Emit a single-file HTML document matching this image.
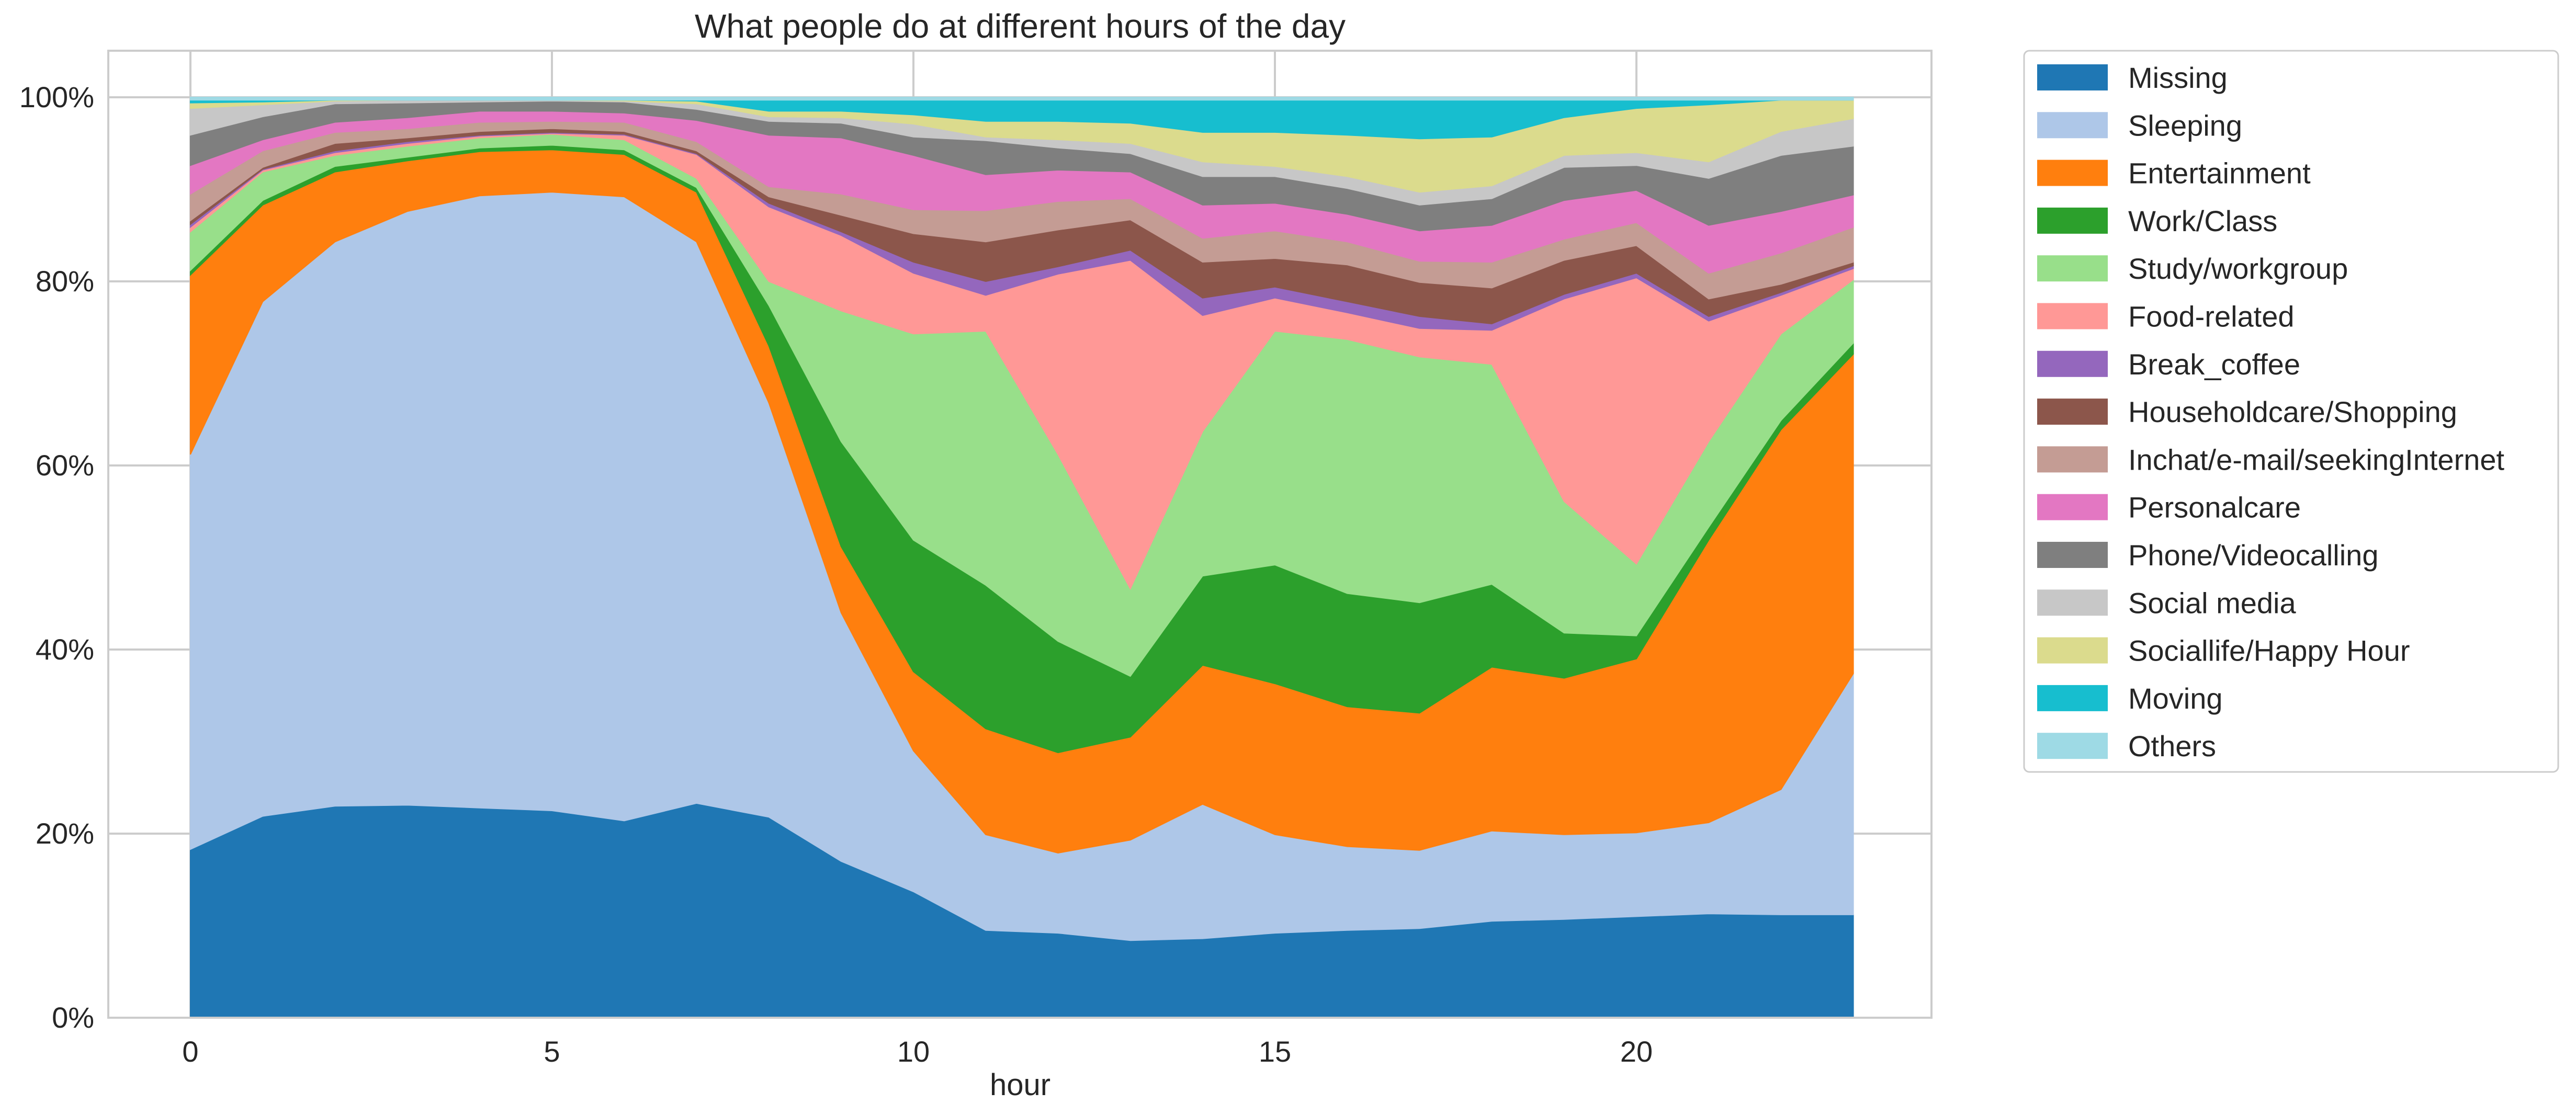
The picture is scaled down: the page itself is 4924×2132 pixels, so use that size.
<!DOCTYPE html>
<html><head><meta charset="utf-8"><style>
html,body{margin:0;padding:0;background:#fff;}
svg{display:block;font-family:"Liberation Sans",sans-serif;}
</style></head><body>
<svg id="chart" width="4924" height="2132" viewBox="0 0 4924 2132" xmlns="http://www.w3.org/2000/svg">
<rect x="0" y="0" width="4924" height="2132" fill="#fff"/>
<text x="1950" y="72" font-size="64" fill="#262626" text-anchor="middle">What people do at different hours of the day</text>
<g id="grid"></g>
<g id="areas"></g>
<rect x="207" y="97" width="3485" height="1849" fill="none" stroke="#cccccc" stroke-width="4"/>
<g id="ticks"></g>
<text x="1950" y="2094" font-size="58" fill="#262626" text-anchor="middle">hour</text>
<g id="legend"></g>
</svg>
<script>
const hours = [0,1,2,3,4,5,6,7,8,9,10,11,12,13,14,15,16,17,18,19,20,21,22,23];
const seriesNames = ["Missing","Sleeping","Entertainment","Work/Class","Study/workgroup","Food-related","Break_coffee","Householdcare/Shopping","Inchat/e-mail/seekingInternet","Personalcare","Phone/Videocalling","Social media","Sociallife/Happy Hour","Moving","Others"];
const missing = [18.3,21.9,23.0,23.1,22.8,22.5,21.4,23.3,21.8,17.0,13.7,9.5,9.2,8.4,8.6,9.2,9.5,9.7,10.5,10.7,11.0,11.3,11.2,11.2];
const sleeping = [42.9,55.9,61.3,64.5,66.5,67.2,67.8,61.0,45.0,27.0,15.3,10.4,8.7,10.9,14.6,10.7,9.1,8.5,9.8,9.2,9.1,9.9,13.6,26.2];
const entertainment = [19.5,10.5,7.6,5.5,4.8,4.6,4.6,5.4,6.2,7.2,8.6,11.5,10.9,11.2,15.1,16.4,15.2,14.9,17.8,17.0,18.9,30.7,39.1,34.7];
const workClass = [0.5,0.5,0.6,0.4,0.4,0.5,0.5,0.5,4.4,11.4,14.3,15.6,12.1,6.6,9.7,12.9,12.3,12.0,9.0,4.9,2.5,1.4,1.0,1.2];
const study = [4.2,3.1,1.2,1.2,1.1,1.2,1.1,1.0,2.6,14.2,22.4,27.6,20.3,9.5,15.7,25.4,27.6,26.7,23.9,14.3,7.8,9.3,9.4,6.9];
const food = [0.5,0.2,0.3,0.3,0.2,0.1,0.5,2.6,8.1,8.2,6.6,3.9,19.6,35.7,12.6,3.6,2.9,3.1,3.7,22.0,31.1,13.1,4.2,1.2];
const breakCoffee = [0.3,0.1,0.2,0.2,0.1,0.1,0.1,0.1,0.4,0.4,1.2,1.5,0.8,1.1,1.9,1.2,1.2,1.3,0.7,0.5,0.5,0.5,0.3,0.3];
const household = [0.4,0.2,0.8,0.4,0.4,0.4,0.3,0.3,0.7,1.8,3.1,4.3,4.0,3.3,3.9,3.1,4.0,3.7,3.9,3.7,3.0,1.9,0.9,0.4];
const inchat = [2.9,1.8,1.2,1.0,1.0,0.8,1.0,1.0,1.1,2.3,2.6,3.4,3.1,2.3,2.6,3.0,2.5,2.3,2.8,2.3,2.5,2.8,3.4,3.8];
const personal = [3.1,1.2,1.1,1.2,1.2,1.1,1.0,2.3,5.6,6.1,5.9,3.9,3.4,2.9,3.6,3.0,3.0,3.3,4.0,4.2,3.5,5.2,4.5,3.5];
const phone = [3.3,2.5,2.0,1.6,1.0,1.1,1.2,1.2,1.5,1.6,2.0,3.7,2.4,2.0,3.1,2.9,2.8,2.8,2.9,3.6,2.7,5.1,6.1,5.3];
const socialMedia = [2.9,1.3,0.3,0.3,0.2,0.1,0.1,0.6,0.5,0.6,1.4,0.4,0.9,1.1,1.6,1.1,1.3,1.4,1.4,1.3,1.4,1.8,2.6,3.0];
const socialLife = [0.6,0.3,0.1,0,0,0,0.1,0.3,0.6,0.7,1.0,1.7,2.0,2.2,3.2,3.7,4.5,5.8,5.3,4.1,4.8,6.2,3.4,2.0];
const moving = [0.3,0.2,0,0,0,0,0,0.1,1.2,1.2,1.6,2.3,2.3,2.5,3.5,3.5,3.8,4.2,4.0,1.9,0.9,0.5,0,0];
const others = [0.3,0.3,0.3,0.3,0.3,0.3,0.3,0.3,0.3,0.3,0.3,0.3,0.3,0.3,0.3,0.3,0.3,0.3,0.3,0.3,0.3,0.3,0.3,0.3];
const xTicks = [0,5,10,15,20];
const yTicks = [0,20,40,60,80,100];

const allSeries = [missing,sleeping,entertainment,workClass,study,food,breakCoffee,household,inchat,personal,phone,socialMedia,socialLife,moving,others];
const colors = ["#1f77b4","#aec7e8","#ff7f0e","#2ca02c","#98df8a","#ff9896","#9467bd","#8c564b","#c49c94","#e377c2","#7f7f7f","#c7c7c7","#dbdb8d","#17becf","#9edae5"];
const NS = "http://www.w3.org/2000/svg";
const X0 = 364, XS = 138.2, Y0 = 1946, YS = 17.6;
function xScale(h){ return X0 + XS*h; }
function yScale(p){ return Y0 - YS*p; }
function mk(tag, attrs, parent){ const e=document.createElementNS(NS,tag); for(const k in attrs) e.setAttribute(k,attrs[k]); parent.appendChild(e); return e; }

const grid = document.getElementById('grid');
xTicks.forEach(t=>{
  const l = mk('line',{x1:xScale(t),x2:xScale(t),y1:97,y2:1946,stroke:'#cccccc','stroke-width':4},grid);
  
  
});
yTicks.forEach(t=>{
  const l = mk('line',{x1:207,x2:3692,y1:yScale(t),y2:yScale(t),stroke:'#cccccc','stroke-width':4},grid);
  
  
});

const areas = document.getElementById('areas');
let base = hours.map(()=>0);
allSeries.forEach((s,i)=>{
  const top = base.map((b,j)=>b+s[j]);
  let d = '';
  hours.forEach((h,j)=>{ d += (j?'L':'M') + xScale(h).toFixed(1)+','+yScale(top[j]).toFixed(1); });
  for(let j=hours.length-1;j>=0;j--){ d += 'L'+xScale(hours[j]).toFixed(1)+','+yScale(base[j]).toFixed(1); }
  d += 'Z';
  const p = mk('path',{d:d,fill:colors[i],stroke:colors[i],'stroke-width':2},areas);
  
  
  base = top;
});

const ticks = document.getElementById('ticks');
xTicks.forEach(t=>{
  const tx = mk('text',{x:xScale(t),y:2030,'font-size':56,fill:'#262626','text-anchor':'middle'},ticks);
  tx.textContent = String(t);
  
  
});
yTicks.forEach(t=>{
  const tx = mk('text',{x:180,y:yScale(t)+19,'font-size':56,fill:'#262626','text-anchor':'end'},ticks);
  tx.textContent = t+'%';
  
  
});

const legend = document.getElementById('legend');
const lb = mk('rect',{x:3869,y:97,width:1021,height:1379,rx:10,fill:'#fff',stroke:'#cccccc','stroke-width':3},legend);


seriesNames.forEach((n,i)=>{
  const cy = 148 + i*91.3;
  const r = mk('rect',{x:3894,y:cy-25,width:135,height:50,fill:colors[i]},legend);
  
  
  const tx = mk('text',{x:4068,y:cy+20,'font-size':56,fill:'#262626'},legend);
  tx.textContent = n;
  
  
});
</script>
</body></html>
